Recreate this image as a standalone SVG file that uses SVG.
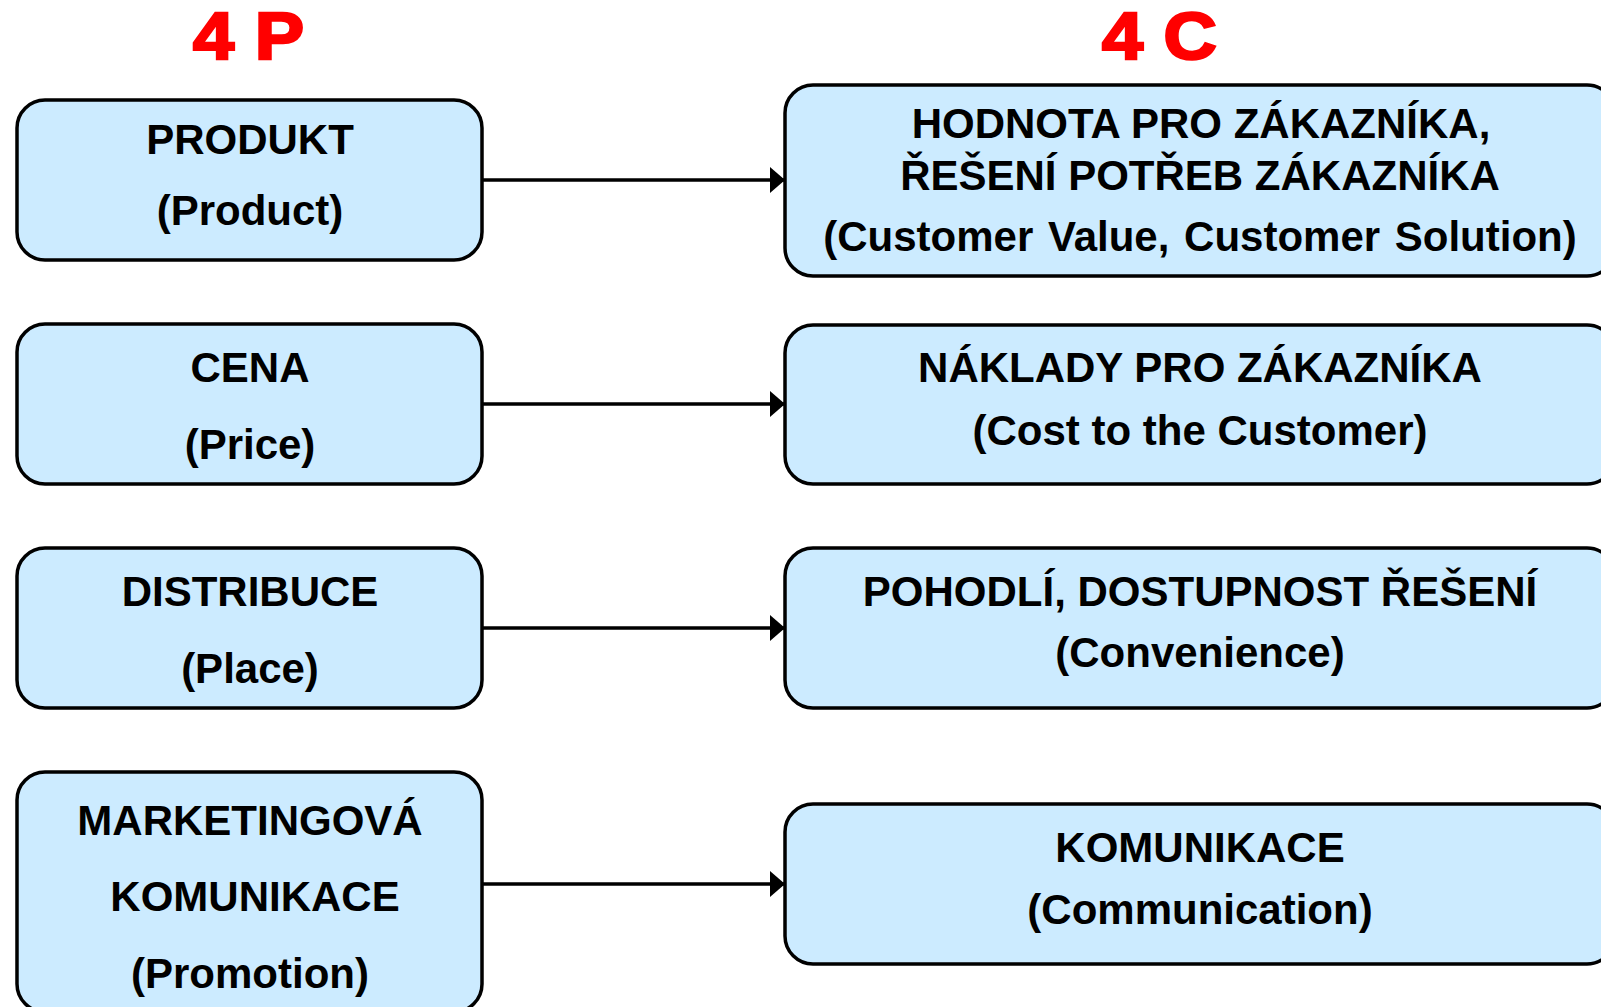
<svg xmlns="http://www.w3.org/2000/svg" width="1601" height="1007" viewBox="0 0 1601 1007">
<style>
.box{fill:#CCEBFF;stroke:#000;stroke-width:3.5}
.t{font-family:"Liberation Sans",Arial,sans-serif;font-weight:bold;font-size:42px;fill:#000;text-anchor:middle}
.title{font-family:"Liberation Sans",Arial,sans-serif;font-weight:bold;font-size:66px;fill:#FF0000;stroke:#FF0000;stroke-width:2.5}
.conn{stroke:#000;stroke-width:3.5;fill:none}
</style>
<defs>
<marker id="ah" markerUnits="userSpaceOnUse" markerWidth="16" markerHeight="28" refX="15" refY="13" orient="auto">
<path d="M0,0 L15,13 L0,26 Z" fill="#000"/>
</marker>
</defs>
<rect width="1601" height="1007" fill="#fff"/>
<text class="title" x="193" y="59" textLength="111" lengthAdjust="spacingAndGlyphs">4 P</text>
<text class="title" x="1102" y="59" textLength="115" lengthAdjust="spacingAndGlyphs">4 C</text>
<g id="connectors">
<line class="conn" x1="482" y1="180" x2="785" y2="180" marker-end="url(#ah)"/>
<line class="conn" x1="482" y1="404" x2="785" y2="404" marker-end="url(#ah)"/>
<line class="conn" x1="482" y1="628" x2="785" y2="628" marker-end="url(#ah)"/>
<line class="conn" x1="482" y1="884" x2="785" y2="884" marker-end="url(#ah)"/>
</g>
<g id="p1"><rect class="box" x="17" y="100" width="465" height="160" rx="28"/>
<text class="t" x="250" y="154">PRODUKT</text><text class="t" x="250" y="225">(Product)</text></g>
<g id="p2"><rect class="box" x="17" y="324" width="465" height="160" rx="28"/>
<text class="t" x="250" y="382">CENA</text><text class="t" x="250" y="459">(Price)</text></g>
<g id="p3"><rect class="box" x="17" y="548" width="465" height="160" rx="28"/>
<text class="t" x="250" y="606">DISTRIBUCE</text><text class="t" x="250" y="683">(Place)</text></g>
<g id="p4"><rect class="box" x="17" y="772" width="465" height="240" rx="28"/>
<text class="t" x="250" y="835">MARKETINGOVÁ</text><text class="t" x="255" y="911">KOMUNIKACE</text><text class="t" x="250" y="988">(Promotion)</text></g>
<g id="c1"><rect class="box" x="785" y="85" width="830" height="191" rx="28"/>
<text class="t" x="1201" y="138">HODNOTA PRO ZÁKAZNÍKA,</text><text class="t" x="1200" y="190">ŘEŠENÍ POTŘEB ZÁKAZNÍKA</text><text class="t" x="1200" y="251" word-spacing="3">(Customer Value, Customer Solution)</text></g>
<g id="c2"><rect class="box" x="785" y="325" width="830" height="159" rx="28"/>
<text class="t" x="1200" y="382">NÁKLADY PRO ZÁKAZNÍKA</text><text class="t" x="1200" y="445">(Cost to the Customer)</text></g>
<g id="c3"><rect class="box" x="785" y="548" width="830" height="160" rx="28"/>
<text class="t" x="1200" y="606">POHODLÍ, DOSTUPNOST ŘEŠENÍ</text><text class="t" x="1200" y="667">(Convenience)</text></g>
<g id="c4"><rect class="box" x="785" y="804" width="830" height="160" rx="28"/>
<text class="t" x="1200" y="862">KOMUNIKACE</text><text class="t" x="1200" y="924">(Communication)</text></g>
</svg>
